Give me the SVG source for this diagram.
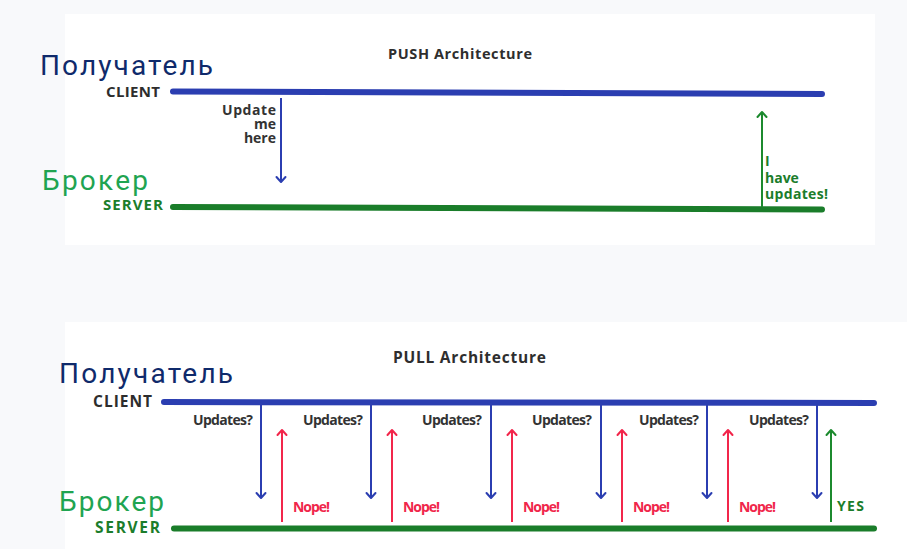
<svg xmlns="http://www.w3.org/2000/svg" width="907" height="549" viewBox="0 0 907 549">
  <style>
    .panel { fill: #ffffff; }
    .title { font-family: "Open Sans", "Liberation Sans", sans-serif; font-weight: 700; fill: #2e2e2e; }
    .ru { font-family: Roboto, "Noto Sans", "Liberation Sans", sans-serif; font-weight: 400; font-size: 28px; }
    .ru-client { fill: #0f2a6b; }
    .ru-server { fill: #1fa451; }
    .role { font-family: "Open Sans", "Liberation Sans", sans-serif; font-weight: 700; }
    .role-client { fill: #2d2d2d; }
    .role-server { fill: #1b7d2b; }
    .lbl { font-family: "Open Sans", "Liberation Sans", sans-serif; font-weight: 700; font-size: 14px; }
    .lbl-dark { fill: #333333; }
    .lbl-red { fill: #f0264a; }
    .lbl-green { fill: #1b7d2b; }
    .bus { fill: none; stroke-width: 6; stroke-linecap: round; }
    .bus-client { stroke: #2b3eb1; }
    .bus-server { stroke: #1a7d2a; }
    .arr { fill: none; stroke-width: 2; }
    .arr-blue { stroke: #2b3eb1; marker-end: url(#hBlue); }
    .arr-red { stroke: #f2264b; marker-end: url(#hRed); }
    .arr-green { stroke: #1c8a2e; marker-end: url(#hGreen); }
  </style>
  <defs>
    <marker id="hBlue" markerUnits="userSpaceOnUse" viewBox="-7 -7 9 14" markerWidth="9" markerHeight="14" refX="0" refY="0" orient="auto">
      <path d="M-5,-4.5 L0,0 L-5,4.5" fill="none" stroke="#2b3eb1" stroke-width="2" stroke-linecap="round" stroke-linejoin="round"/>
    </marker>
    <marker id="hRed" markerUnits="userSpaceOnUse" viewBox="-7 -7 9 14" markerWidth="9" markerHeight="14" refX="0" refY="0" orient="auto">
      <path d="M-5,-4.5 L0,0 L-5,4.5" fill="none" stroke="#f2264b" stroke-width="2" stroke-linecap="round" stroke-linejoin="round"/>
    </marker>
    <marker id="hGreen" markerUnits="userSpaceOnUse" viewBox="-7 -7 9 14" markerWidth="9" markerHeight="14" refX="0" refY="0" orient="auto">
      <path d="M-5,-4.5 L0,0 L-5,4.5" fill="none" stroke="#1c8a2e" stroke-width="2" stroke-linecap="round" stroke-linejoin="round"/>
    </marker>
  </defs>

  <rect x="0" y="0" width="907" height="549" fill="#f8f9fb"/>
  <rect class="panel" x="65" y="14" width="810" height="231"/>
  <rect class="panel" x="65" y="322" width="842" height="227"/>

  <!-- PUSH panel -->
  <g id="push-title">
    <text class="title" x="388" y="59" font-size="14.5" textLength="144">PUSH Architecture</text>
  </g>
  <g id="push-client">
    <text class="ru ru-client" x="40" y="75" textLength="173">Получатель</text>
    <text class="role role-client" x="106" y="97" font-size="15" textLength="54">CLIENT</text>
  </g>
  <g id="push-server">
    <text class="ru ru-server" x="42" y="190" textLength="106">Брокер</text>
    <text class="role role-server" x="103" y="209.5" font-size="15" textLength="60">SERVER</text>
  </g>

  <!-- PULL panel -->
  <g id="pull-title">
    <text class="title" x="393" y="363" font-size="15.5" textLength="153">PULL Architecture</text>
  </g>
  <g id="pull-client">
    <text class="ru ru-client" x="59" y="383" textLength="174">Получатель</text>
    <text class="role role-client" x="93" y="407" font-size="15.5" textLength="59">CLIENT</text>
  </g>
  <g id="pull-server">
    <text class="ru ru-server" x="59" y="511" textLength="105">Брокер</text>
    <text class="role role-server" x="95" y="533" font-size="15.5" textLength="65">SERVER</text>
  </g>

  <g id="connectors">
    <!-- buses -->
    <line class="bus bus-client" x1="173" y1="91.5" x2="822" y2="94"/>
    <line class="bus bus-server" x1="173" y1="207" x2="822" y2="209.5"/>
    <line class="bus bus-client" x1="164" y1="402" x2="874" y2="403"/>
    <line class="bus bus-server" x1="174" y1="528.5" x2="874" y2="528.5"/>

    <!-- PUSH arrows -->
    <line class="arr arr-blue" x1="281" y1="98" x2="281" y2="182"/>
    <line class="arr arr-green" x1="762" y1="207" x2="762" y2="112"/>

    <!-- PULL arrows -->
    <line class="arr arr-blue" x1="261" y1="404" x2="261" y2="498"/>
    <line class="arr arr-blue" x1="371" y1="404" x2="371" y2="498"/>
    <line class="arr arr-blue" x1="491" y1="404" x2="491" y2="498"/>
    <line class="arr arr-blue" x1="601" y1="404" x2="601" y2="498"/>
    <line class="arr arr-blue" x1="707" y1="404" x2="707" y2="498"/>
    <line class="arr arr-blue" x1="817" y1="404" x2="817" y2="498"/>
    <line class="arr arr-red" x1="282" y1="522" x2="282" y2="430"/>
    <line class="arr arr-red" x1="392" y1="522" x2="392" y2="430"/>
    <line class="arr arr-red" x1="512" y1="522" x2="512" y2="430"/>
    <line class="arr arr-red" x1="622" y1="522" x2="622" y2="430"/>
    <line class="arr arr-red" x1="728" y1="522" x2="728" y2="430"/>
    <line class="arr arr-green" x1="831" y1="522" x2="831" y2="430"/>

    <!-- labels -->
    <g class="lbl lbl-dark" font-size="14.5" text-anchor="end">
      <text x="276" y="115" textLength="54">Update</text>
      <text x="276" y="129">me</text>
      <text x="276" y="143">here</text>
    </g>
    <g class="lbl lbl-green" font-size="14.5">
      <text x="765" y="166">I</text>
      <text x="765" y="182.5">have</text>
      <text x="765" y="199" textLength="63">updates!</text>
    </g>
    <g class="lbl lbl-dark">
      <text x="193" y="425" textLength="60">Updates?</text>
      <text x="303" y="425" textLength="60">Updates?</text>
      <text x="422" y="425" textLength="60">Updates?</text>
      <text x="532" y="425" textLength="60">Updates?</text>
      <text x="639" y="425" textLength="60">Updates?</text>
      <text x="749" y="425" textLength="60">Updates?</text>
    </g>
    <g class="lbl lbl-red">
      <text x="293" y="512" textLength="37">Nope!</text>
      <text x="403" y="512" textLength="37">Nope!</text>
      <text x="523" y="512" textLength="37">Nope!</text>
      <text x="633" y="512" textLength="37">Nope!</text>
      <text x="739" y="512" textLength="37">Nope!</text>
    </g>
    <text class="lbl lbl-green" x="837" y="511" font-size="17" textLength="27">YES</text>
  </g>
</svg>
